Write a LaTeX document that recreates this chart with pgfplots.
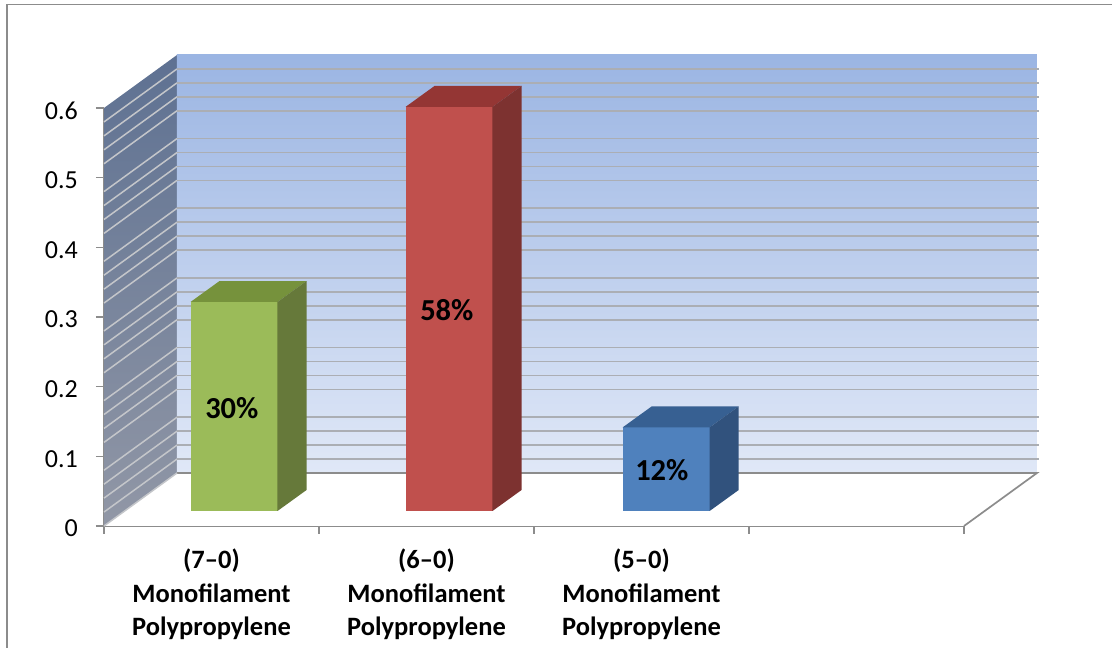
\documentclass[border=0pt]{standalone}
\usepackage{fontspec}
\setmainfont{Carlito}
\usepackage{pgfplots}
\pgfplotsset{compat=1.18}
\definecolor{axgray}{HTML}{8C8C8C}
\definecolor{gridgray}{HTML}{ABAEB4}
\definecolor{sidegrid}{HTML}{C4C6CA}
\definecolor{sidetop}{HTML}{5E7192}
\definecolor{sidebot}{HTML}{9197A6}
\definecolor{backtop}{HTML}{9BB5E3}
\definecolor{backbot}{HTML}{E0E8F7}
\definecolor{gfront}{HTML}{9BBB59}
\definecolor{gtop}{HTML}{76923C}
\definecolor{gside}{HTML}{66793A}
\definecolor{rfront}{HTML}{C0504D}
\definecolor{rtop}{HTML}{943634}
\definecolor{rside}{HTML}{7D3230}
\definecolor{bfront}{HTML}{4F81BD}
\definecolor{btop}{HTML}{376092}
\definecolor{bside}{HTML}{31527D}
\pgfplotsset{
  geom/.style={scale only axis, width=860pt, height=418pt, xmin=0, xmax=4, ymin=0, ymax=0.6, clip=false},
  hiddenax/.style={geom, hide axis, anchor=south west},
}
\begin{document}
\begin{tikzpicture}[x=1pt,y=1pt]
\path[use as bounding box] (0,0) rectangle (1112,648);
% outer frame
\draw[axgray,line width=1.6pt] (7,-2) -- (7,643.5) -- (1114,643.5);
% main axis: walls and floor in data units
\begin{axis}[geom, at={(104pt,122pt)}, anchor=south west,
  axis y line*=left, axis x line*=bottom, axis line style={-,axgray,line width=1.9pt},
  ytick={0,0.1,0.2,0.3,0.4,0.5,0.6},
  xtick={0.5,1.5,2.5}, minor xtick={0,1,2,3,4},
  xticklabels={{(7--0)\\Monofilament\\Polypropylene},{(6--0)\\Monofilament\\Polypropylene},{(5--0)\\Monofilament\\Polypropylene}},
  tick align=outside, major tick length=8pt, minor tick length=8pt,
  major x tick style={draw=none},
  minor x tick style={axgray,line width=1.6pt},
  y tick style={axgray,line width=1.6pt},
  /pgf/number format/.cd, fixed, precision=1, assume math mode=true, /pgfplots/.cd,
  yticklabel style={font=\fontsize{26}{30}\selectfont, text=black, inner sep=0pt, xshift=-18pt, yshift=-2.5pt},
  xticklabel style={font=\fontsize{26.5}{33.5}\selectfont\bfseries, text=black, align=center, text width=200pt, yshift=-11.5pt},
  unbounded coords=jump,
]
% left wall
\addplot[draw=none, shade, top color=sidetop, bottom color=sidebot, forget plot]
  coordinates {(0,0) (0,0.6) (0.3395,0.6761) (0.3395,0.0761)};
% back wall
\addplot[draw=none, shade, top color=backtop, bottom color=backbot, forget plot]
  coordinates {(0.3395,0.0761) (0.3395,0.6761) (4.3395,0.6761) (4.3395,0.0761)};
% floor
\addplot[draw=none, fill=white, forget plot]
  coordinates {(0,0) (0.3395,0.0761) (4.3395,0.0761) (4,0)};
\addplot[axgray, line width=1.7pt, forget plot] coordinates {(0.3395,0.0761) (4.3395,0.0761) (4,0)};
\addplot[sidegrid, line width=1.5pt, forget plot] coordinates {(0,0) (0.3395,0.0761)};
% minor gridlines, side wall
\addplot[sidegrid, line width=1.5pt, forget plot] coordinates {
(0,0.02)(0.3395,0.0961)(0,nan)(0,0.04)(0.3395,0.1161)(0,nan)(0,0.06)(0.3395,0.1361)(0,nan)(0,0.08)(0.3395,0.1561)(0,nan)
(0,0.12)(0.3395,0.1961)(0,nan)(0,0.14)(0.3395,0.2161)(0,nan)(0,0.16)(0.3395,0.2361)(0,nan)(0,0.18)(0.3395,0.2561)(0,nan)
(0,0.22)(0.3395,0.2961)(0,nan)(0,0.24)(0.3395,0.3161)(0,nan)(0,0.26)(0.3395,0.3361)(0,nan)(0,0.28)(0.3395,0.3561)(0,nan)
(0,0.32)(0.3395,0.3961)(0,nan)(0,0.34)(0.3395,0.4161)(0,nan)(0,0.36)(0.3395,0.4361)(0,nan)(0,0.38)(0.3395,0.4561)(0,nan)
(0,0.42)(0.3395,0.4961)(0,nan)(0,0.44)(0.3395,0.5161)(0,nan)(0,0.46)(0.3395,0.5361)(0,nan)(0,0.48)(0.3395,0.5561)(0,nan)
(0,0.52)(0.3395,0.5961)(0,nan)(0,0.54)(0.3395,0.6161)(0,nan)(0,0.56)(0.3395,0.6361)(0,nan)(0,0.58)(0.3395,0.6561)
};
% minor gridlines, back wall
\addplot[gridgray, line width=1.7pt, forget plot] coordinates {
(0.3395,0.0961)(4.348,0.0961)(0,nan)(0.3395,0.1161)(4.348,0.1161)(0,nan)(0.3395,0.1361)(4.348,0.1361)(0,nan)(0.3395,0.1561)(4.348,0.1561)(0,nan)
(0.3395,0.1961)(4.348,0.1961)(0,nan)(0.3395,0.2161)(4.348,0.2161)(0,nan)(0.3395,0.2361)(4.348,0.2361)(0,nan)(0.3395,0.2561)(4.348,0.2561)(0,nan)
(0.3395,0.2961)(4.348,0.2961)(0,nan)(0.3395,0.3161)(4.348,0.3161)(0,nan)(0.3395,0.3361)(4.348,0.3361)(0,nan)(0.3395,0.3561)(4.348,0.3561)(0,nan)
(0.3395,0.3961)(4.348,0.3961)(0,nan)(0.3395,0.4161)(4.348,0.4161)(0,nan)(0.3395,0.4361)(4.348,0.4361)(0,nan)(0.3395,0.4561)(4.348,0.4561)(0,nan)
(0.3395,0.4961)(4.348,0.4961)(0,nan)(0.3395,0.5161)(4.348,0.5161)(0,nan)(0.3395,0.5361)(4.348,0.5361)(0,nan)(0.3395,0.5561)(4.348,0.5561)(0,nan)
(0.3395,0.5961)(4.348,0.5961)(0,nan)(0.3395,0.6161)(4.348,0.6161)(0,nan)(0.3395,0.6361)(4.348,0.6361)(0,nan)(0.3395,0.6561)(4.348,0.6561)
};
\end{axis}
% bars: same scale, origin moved onto the floor
\begin{axis}[hiddenax, at={(126.5pt,137pt)}, ybar, bar width=87pt, bar shift=0pt]
\addplot[fill=gfront, draw=none] coordinates {(0.5,0.30)};
\addplot[fill=rfront, draw=none] coordinates {(1.5,0.58)};
\addplot[fill=bfront, draw=none] coordinates {(2.51,0.12)};
\end{axis}
\begin{axis}[hiddenax, at={(126.5pt,137pt)}]
% green
\addplot[fill=gtop, draw=none] coordinates {(0.2977,0.30) (0.4326,0.3301) (0.8372,0.3301) (0.7023,0.30)};
\addplot[fill=gside, draw=none] coordinates {(0.7023,0) (0.8372,0.0301) (0.8372,0.3301) (0.7023,0.30)};
% red
\addplot[fill=rtop, draw=none] coordinates {(1.2977,0.58) (1.4326,0.6101) (1.8372,0.6101) (1.7023,0.58)};
\addplot[fill=rside, draw=none] coordinates {(1.7023,0) (1.8372,0.0301) (1.8372,0.6101) (1.7023,0.58)};
% blue
\addplot[fill=btop, draw=none] coordinates {(2.3077,0.12) (2.4426,0.1501) (2.8472,0.1501) (2.7123,0.12)};
\addplot[fill=bside, draw=none] coordinates {(2.7123,0) (2.8472,0.0301) (2.8472,0.1501) (2.7123,0.12)};
% value labels, at mid height of each bar
\addplot[draw=none, no marks, nodes near coords, point meta=explicit symbolic,
  nodes near coords align={center},
  every node near coord/.append style={font=\fontsize{30.5}{32}\selectfont\bfseries, text=black}]
  coordinates {(0.49,0.148)[30\%] (1.49,0.288)[58\%] (2.49,0.058)[12\%]};
\end{axis}
\end{tikzpicture}
\end{document}
